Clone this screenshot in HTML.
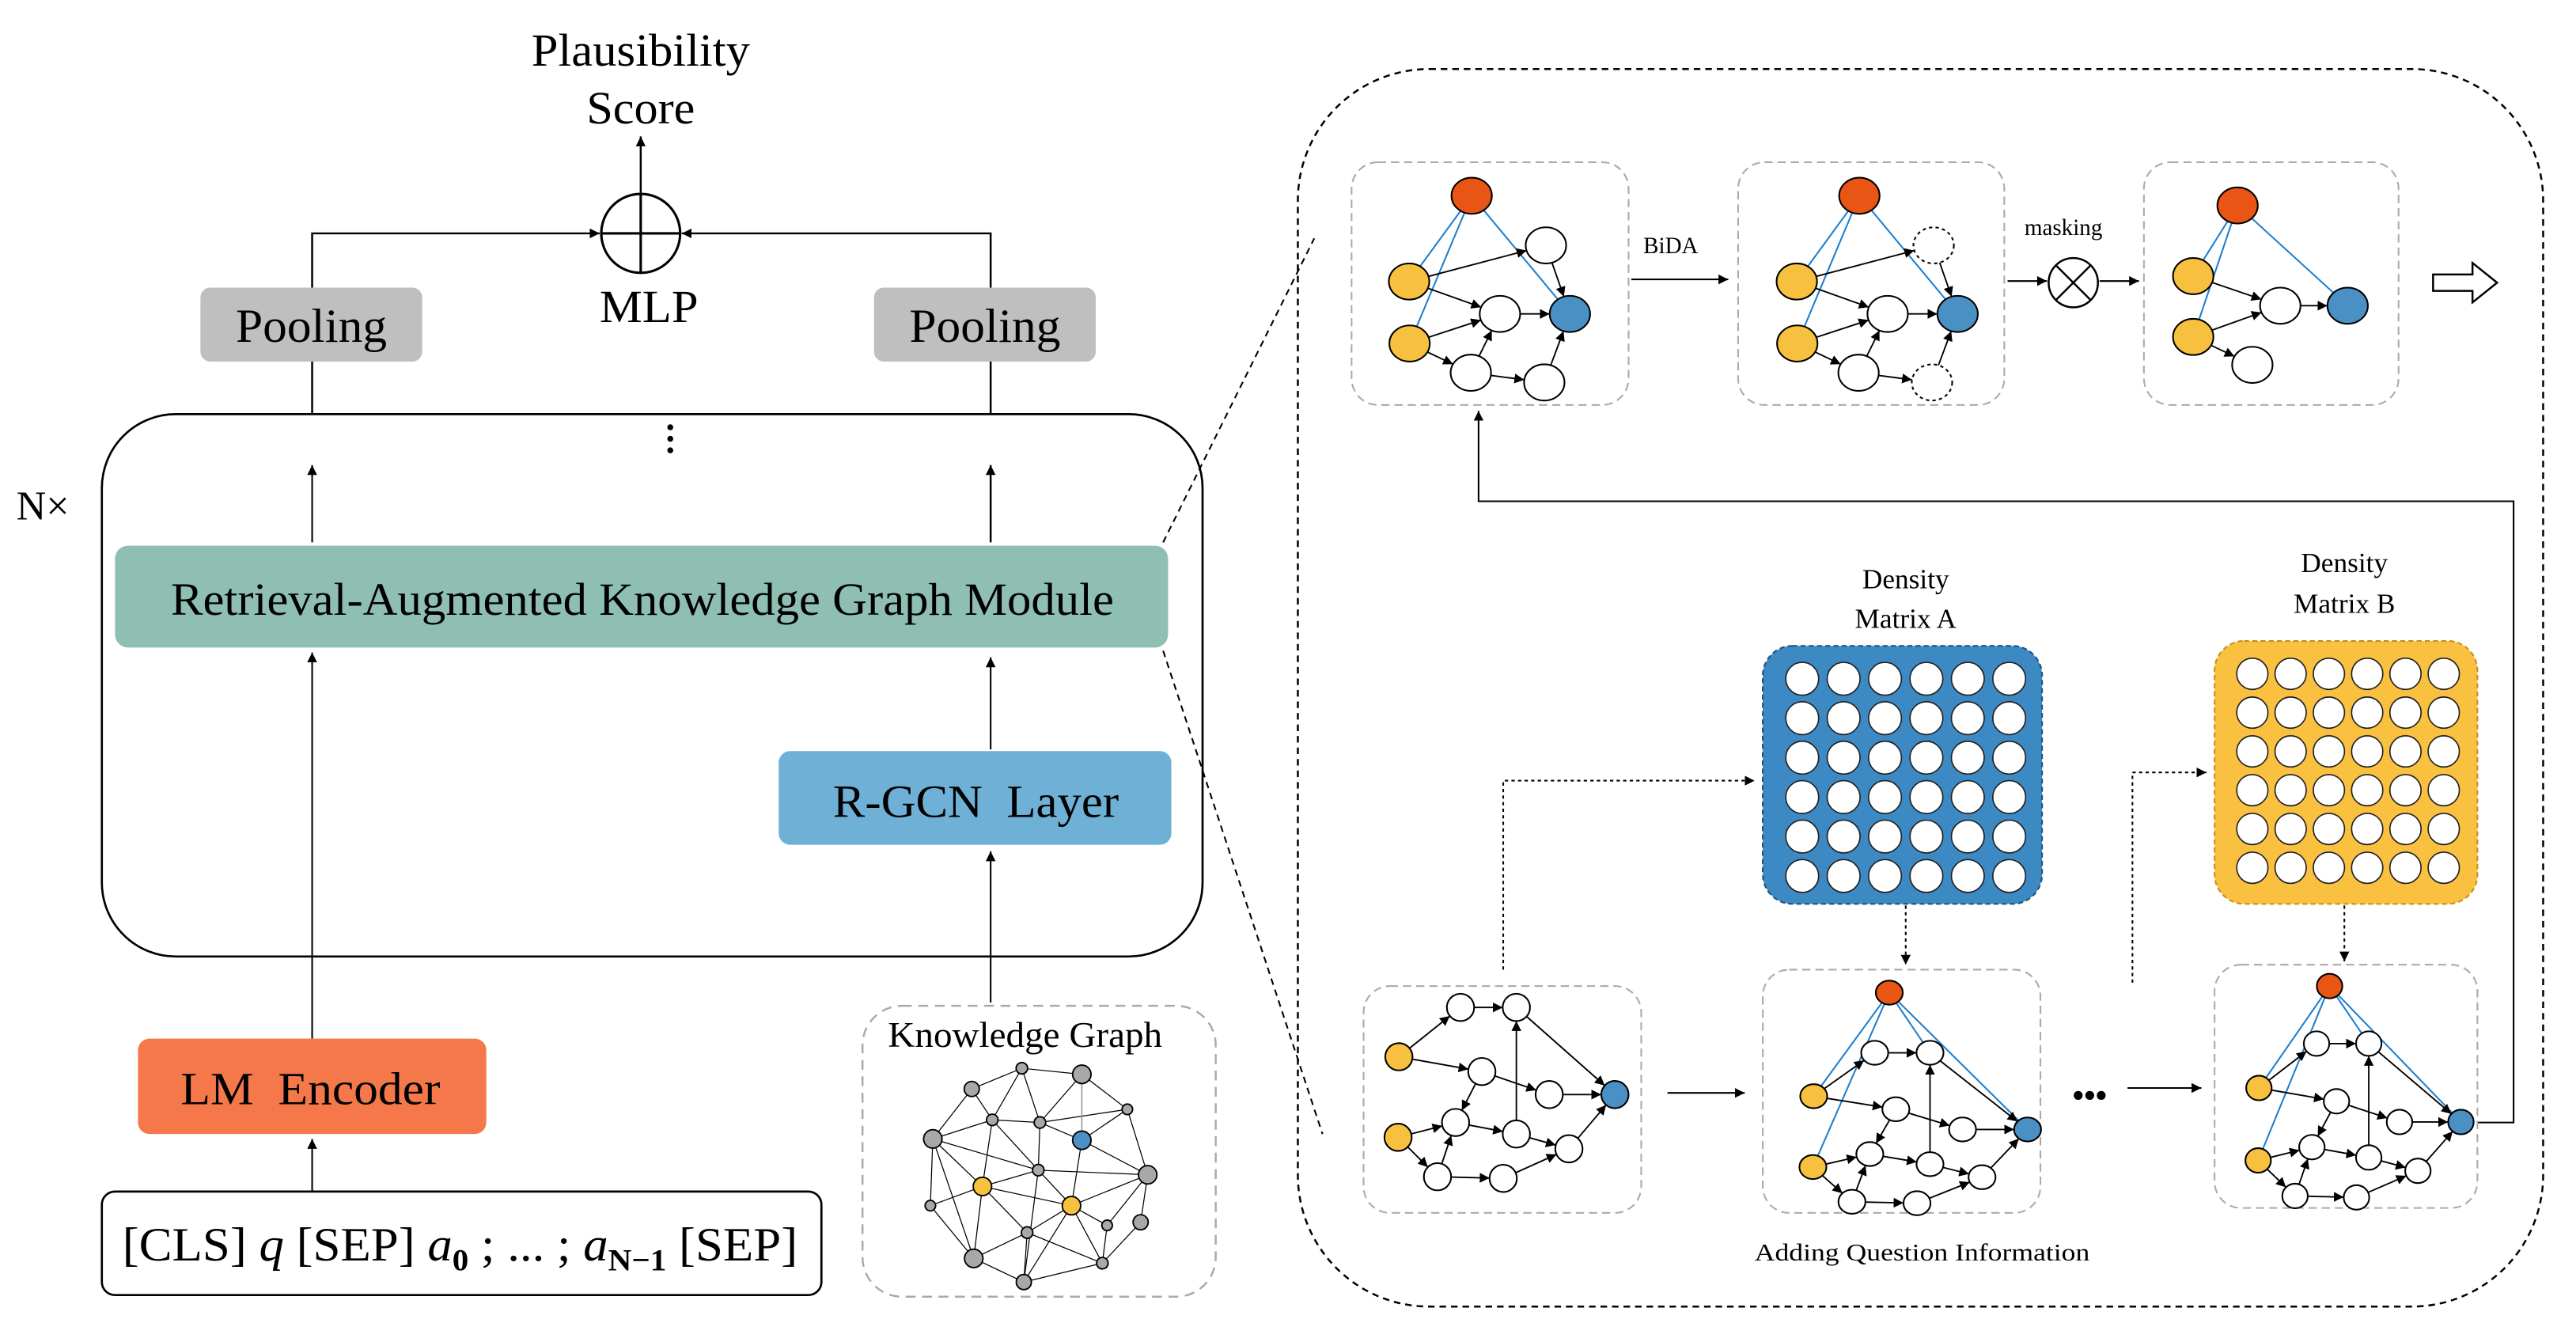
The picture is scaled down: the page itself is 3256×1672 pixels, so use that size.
<!DOCTYPE html>
<html><head><meta charset="utf-8"><style>
html,body{margin:0;padding:0;background:#fff;}
svg{display:block;}
text{font-family:"Liberation Serif",serif;fill:#000;}
</style></head><body>
<svg id="s" width="3256" height="1672" viewBox="0 0 1568 805" preserveAspectRatio="none" xmlns="http://www.w3.org/2000/svg">
<defs>
<marker id="ah" viewBox="0 0 10 10" refX="10" refY="5" markerWidth="6" markerHeight="6" markerUnits="userSpaceOnUse" orient="auto"><path d="M0,0L10,5L0,10z" fill="#000"/></marker>
</defs>
<rect width="1568" height="805" fill="#fff"/>

<text x="390" y="40" font-size="28" text-anchor="middle" textLength="133" lengthAdjust="spacingAndGlyphs">Plausibility</text>
<text x="390" y="75" font-size="28" text-anchor="middle" textLength="66" lengthAdjust="spacingAndGlyphs">Score</text>
<line x1="390" y1="118" x2="390" y2="83" stroke="#000" stroke-width="1.2" marker-end="url(#ah)"/>
<circle cx="390" cy="142" r="24" fill="#fff" stroke="#000" stroke-width="1.5"/>
<line x1="366" y1="142" x2="414" y2="142" stroke="#000" stroke-width="1.5"/>
<line x1="390" y1="118" x2="390" y2="166" stroke="#000" stroke-width="1.5"/>
<text x="395" y="196" font-size="28" text-anchor="middle" textLength="60" lengthAdjust="spacingAndGlyphs">MLP</text>
<polyline points="190,175 190,142 365,142" fill="none" stroke="#000" stroke-width="1.2" marker-end="url(#ah)"/>
<polyline points="603,175 603,142 415,142" fill="none" stroke="#000" stroke-width="1.2" marker-end="url(#ah)"/>
<rect x="122" y="175" width="135" height="45" rx="6" fill="#bfbfbf"/>
<text x="189.5" y="208" font-size="29" text-anchor="middle" textLength="92" lengthAdjust="spacingAndGlyphs">Pooling</text>
<rect x="532" y="175" width="135" height="45" rx="6" fill="#bfbfbf"/>
<text x="599.5" y="208" font-size="29" text-anchor="middle" textLength="92" lengthAdjust="spacingAndGlyphs">Pooling</text>
<line x1="190" y1="220" x2="190" y2="252" stroke="#000" stroke-width="1.2"/>
<line x1="603" y1="220" x2="603" y2="252" stroke="#000" stroke-width="1.2"/>
<rect x="62" y="252" width="670" height="330" rx="45" fill="none" stroke="#000" stroke-width="1.3"/>
<circle cx="408" cy="260" r="1.8" fill="#000"/><circle cx="408" cy="267" r="1.8" fill="#000"/><circle cx="408" cy="274" r="1.8" fill="#000"/>
<text x="10" y="316" font-size="25">N×</text>
<line x1="190" y1="330" x2="190" y2="283" stroke="#000" stroke-width="1" marker-end="url(#ah)"/>
<line x1="603" y1="330" x2="603" y2="283" stroke="#000" stroke-width="1.2" marker-end="url(#ah)"/>
<rect x="70" y="332" width="641" height="62" rx="8" fill="#8fbfb2"/>
<text x="391" y="374" font-size="28" text-anchor="middle" textLength="574" lengthAdjust="spacingAndGlyphs">Retrieval-Augmented Knowledge Graph Module</text>
<line x1="190" y1="632" x2="190" y2="397" stroke="#000" stroke-width="1" marker-end="url(#ah)"/>
<line x1="603" y1="456" x2="603" y2="400" stroke="#000" stroke-width="1" marker-end="url(#ah)"/>
<rect x="474" y="457" width="239" height="57" rx="7" fill="#6fb0d6"/>
<text x="594" y="497" font-size="28" text-anchor="middle" xml:space="preserve" textLength="174" lengthAdjust="spacingAndGlyphs">R-GCN  Layer</text>
<line x1="603" y1="610" x2="603" y2="518" stroke="#000" stroke-width="1" marker-end="url(#ah)"/>
<rect x="84" y="632" width="212" height="58" rx="7" fill="#f4784a"/>
<text x="189" y="672" font-size="28" text-anchor="middle" xml:space="preserve" textLength="158" lengthAdjust="spacingAndGlyphs">LM  Encoder</text>
<line x1="190" y1="725" x2="190" y2="693" stroke="#000" stroke-width="1" marker-end="url(#ah)"/>
<rect x="62" y="725" width="438" height="63" rx="8" fill="#fff" stroke="#000" stroke-width="1.3"/>
<text x="280" y="767" font-size="29" text-anchor="middle" textLength="411" lengthAdjust="spacingAndGlyphs">[CLS] <tspan font-style="italic">q</tspan> [SEP] <tspan font-style="italic">a</tspan><tspan font-size="19" dy="6" font-weight="bold">0</tspan><tspan dy="-6"> ; ... ; </tspan><tspan font-style="italic">a</tspan><tspan font-size="19" dy="6" font-weight="bold">N−1</tspan><tspan dy="-6"> [SEP]</tspan></text>

<rect x="525" y="612" width="215" height="177" rx="24" fill="none" stroke="#aaa" stroke-width="1.2" stroke-dasharray="6,4"/>
<text x="624" y="637" font-size="22" text-anchor="middle" textLength="167" lengthAdjust="spacingAndGlyphs">Knowledge Graph</text>
<g id="kg"></g>

<line x1="708" y1="330" x2="800" y2="145" stroke="#000" stroke-width="1" stroke-dasharray="4,3"/>
<line x1="708" y1="396" x2="805" y2="690" stroke="#000" stroke-width="1" stroke-dasharray="4,3"/>

<rect x="790" y="42" width="758" height="753" rx="80" fill="none" stroke="#000" stroke-width="1.2" stroke-dasharray="4,3"/>

<rect x="822.7" y="98.7" width="168.6" height="147.7" rx="16" fill="none" stroke="#aaa" stroke-width="1" stroke-dasharray="5,3"/>
<rect x="1058" y="98.7" width="162" height="147.7" rx="16" fill="none" stroke="#aaa" stroke-width="1" stroke-dasharray="5,3"/>
<rect x="1305" y="98.7" width="155" height="147.7" rx="16" fill="none" stroke="#aaa" stroke-width="1" stroke-dasharray="5,3"/>
<text x="1017" y="154" font-size="14" text-anchor="middle">BiDA</text>
<line x1="993" y1="170" x2="1052" y2="170" stroke="#000" stroke-width="1" marker-end="url(#ah)"/>
<text x="1256" y="143" font-size="14" text-anchor="middle">masking</text>
<line x1="1222" y1="171" x2="1246" y2="171" stroke="#000" stroke-width="1" marker-end="url(#ah)"/>
<circle cx="1262" cy="172" r="15" fill="#fff" stroke="#000" stroke-width="1.2"/>
<line x1="1251.4" y1="161.4" x2="1272.6" y2="182.6" stroke="#000" stroke-width="1.2"/>
<line x1="1272.6" y1="161.4" x2="1251.4" y2="182.6" stroke="#000" stroke-width="1.2"/>
<line x1="1278" y1="171" x2="1302" y2="171" stroke="#000" stroke-width="1" marker-end="url(#ah)"/>
<path d="M1481,167 L1505,167 L1505,160 L1520,172 L1505,184 L1505,177 L1481,177 Z" fill="#fff" stroke="#000" stroke-width="1.2"/>

<polyline points="1508,683 1530,683 1530,305 900,305 900,250" fill="none" stroke="#000" stroke-width="1" marker-end="url(#ah)"/>

<rect x="830" y="600" width="169" height="138" rx="16" fill="none" stroke="#aaa" stroke-width="1" stroke-dasharray="5,3"/>
<rect x="1073" y="590" width="169" height="148" rx="16" fill="none" stroke="#aaa" stroke-width="1" stroke-dasharray="5,3"/>
<rect x="1348" y="587" width="160" height="148" rx="16" fill="none" stroke="#aaa" stroke-width="1" stroke-dasharray="5,3"/>
<line x1="1015" y1="665" x2="1062" y2="665" stroke="#000" stroke-width="1" marker-end="url(#ah)"/>
<text x="1272" y="673" font-size="20" text-anchor="middle" font-weight="bold">•••</text>
<line x1="1295" y1="662" x2="1340" y2="662" stroke="#000" stroke-width="1" marker-end="url(#ah)"/>
<text x="1170" y="767" font-size="15" text-anchor="middle" textLength="204" lengthAdjust="spacingAndGlyphs">Adding Question Information</text>

<text x="1160" y="358" font-size="17" text-anchor="middle">Density</text>
<text x="1160" y="382" font-size="17" text-anchor="middle">Matrix A</text>
<text x="1427" y="348" font-size="17" text-anchor="middle">Density</text>
<text x="1427" y="373" font-size="17" text-anchor="middle">Matrix B</text>
<rect x="1073" y="393" width="170" height="157" rx="18" fill="#3d89c4" stroke="#1f4f7a" stroke-width="1" stroke-dasharray="3,2"/>
<rect x="1348" y="390" width="160" height="160" rx="18" fill="#f9c13f" stroke="#c9901a" stroke-width="1" stroke-dasharray="3,2"/>
<g id="mat"></g>
<polyline points="915,590 915,475 1068,475" fill="none" stroke="#000" stroke-width="1" stroke-dasharray="2,2" marker-end="url(#ah)"/>
<line x1="1160" y1="551" x2="1160" y2="587" stroke="#000" stroke-width="1" stroke-dasharray="2,2" marker-end="url(#ah)"/>
<polyline points="1298,598 1298,470 1343,470" fill="none" stroke="#000" stroke-width="1" stroke-dasharray="2,2" marker-end="url(#ah)"/>
<line x1="1427" y1="551" x2="1427" y2="585" stroke="#000" stroke-width="1" stroke-dasharray="2,2" marker-end="url(#ah)"/>

<g id="graphs"></g>
</svg>
<script>
(function(){
var NS="http://www.w3.org/2000/svg";
function el(p,t,a){var e=document.createElementNS(NS,t);for(var k in a)e.setAttribute(k,a[k]);p.appendChild(e);return e;}
var G=document.getElementById('graphs');
var COL={o:'#e85514',y:'#f8c03f',b:'#4a90c4',w:'#fff',g:'#aaa7a7'};
function graph(nodes,edges,blue,opts){
  var rx=opts.rx,ry=opts.ry;
  blue.forEach(function(e){var a=nodes[e[0]],b=nodes[e[1]];el(G,'line',{x1:a[0],y1:a[1],x2:b[0],y2:b[1],stroke:'#1f7fcf','stroke-width':1});});
  edges.forEach(function(e){var a=nodes[e[0]],b=nodes[e[1]];var dx=b[0]-a[0],dy=b[1]-a[1];var L=Math.sqrt(dx*dx+dy*dy);
    var ux=dx/L,uy=dy/L;var t=1/Math.sqrt((ux*ux)/(rx*rx)+(uy*uy)/(ry*ry));
    el(G,'line',{x1:a[0]+ux*t,y1:a[1]+uy*t,x2:b[0]-ux*t,y2:b[1]-uy*t,stroke:'#000','stroke-width':0.9,'marker-end':'url(#ah)'});});
  for(var k in nodes){var n=nodes[k];var a={cx:n[0],cy:n[1],rx:rx,ry:ry,fill:COL[n[2]],stroke:'#000','stroke-width':1};if(n[3])a['stroke-dasharray']='2,2';el(G,'ellipse',a);}
}
function topGraph(dx,dashed){
  var N={O:[895.8,119.1,'o'],Y1:[857.7,171.3,'y'],Y2:[858,209,'y'],a:[941,149.3,'w',dashed],b:[913,191,'w'],B:[955.6,191,'b'],c:[895.3,226.8,'w'],d:[940,232.7,'w',dashed]};
  var E=[['Y1','a'],['Y1','b'],['Y2','b'],['Y2','c'],['c','b'],['c','d'],['b','B'],['a','B'],['d','B']];
  for(var k in N){N[k][0]+=dx;}
  graph(N,E,[['O','Y1'],['O','Y2'],['O','B']],{rx:12.3,ry:11});
}
topGraph(0,false);topGraph(236,true);
var N3={O:[1362,125,'o'],Y1:[1335,168,'y'],Y2:[1335,205,'y'],b:[1388,186,'w'],B:[1429,186,'b'],c:[1371,222,'w']};
graph(N3,[['Y1','b'],['Y2','b'],['Y2','c'],['b','B']],[['O','Y1'],['O','Y2'],['O','B']],{rx:12.3,ry:11});
var T={Y1:[851.5,643,'y'],Y2:[851,692,'y'],W1:[889,613,'w'],W2:[923,613,'w'],W3:[902,652,'w'],W4:[943,666,'w'],B:[983,666,'b'],W5:[886,683,'w'],W6:[923,690,'w'],W7:[955,699,'w'],W8:[875,716,'w'],W9:[915,717,'w']};
var TE=[['Y1','W1'],['Y1','W3'],['W1','W2'],['W2','B'],['W3','W4'],['W3','W5'],['W4','B'],['Y2','W5'],['Y2','W8'],['W8','W5'],['W5','W6'],['W6','W2'],['W6','W7'],['W8','W9'],['W9','W7'],['W7','B']];
function bottom(X0,Y0,sx,sy,O){var N={};for(var k in T){N[k]=[X0+(T[k][0]-851.5)*sx,Y0+(T[k][1]-643)*sy,T[k][2]];}
  var bl=[];if(O){N.O=[O[0],O[1],'o'];bl=[['O','Y1'],['O','Y2'],['O','B'],['O','W2']];}
  graph(N,TE,bl,{rx:8.3*Math.min(1,sx),ry:8.3*Math.min(1,sy)});}
bottom(851.5,643,1,1,null);
bottom(1104,667,0.99,0.88,[1150,604]);
bottom(1375,662,0.935,0.9,[1418,600]);
var M=document.getElementById('mat');
for(var i=0;i<6;i++)for(var j=0;j<6;j++){
  el(M,'circle',{cx:1097+j*25.2,cy:413+i*24,r:10,fill:'#fff',stroke:'#222','stroke-width':0.8});
  el(M,'circle',{cx:1371+j*23.3,cy:410+i*23.6,r:9.5,fill:'#fff',stroke:'#222','stroke-width':0.8});
}
var K={A:[622,650,3.5,'g'],B:[658.5,653.7,5.6,'g'],C:[591.5,662.6,4.6,'g'],D:[686.2,675,3.2,'g'],E:[604,681.4,3.5,'g'],F:[633,683,3.5,'g'],G:[658.5,693.8,5.6,'b'],H:[567.8,693,5.6,'g'],I:[632,712,3.5,'g'],J:[698.6,714.8,5.6,'g'],K:[598,721.9,5.6,'y'],L:[566.3,733.6,3.2,'g'],M:[652.2,733.6,5.6,'y'],N:[673.9,745.6,3.2,'g'],O:[694.3,743.7,4.6,'g'],P:[625.2,750,3.5,'g'],Q:[592.7,765.7,5.6,'g'],R:[671,768.6,3.5,'g'],S:[623.2,780.1,4.6,'g']};
var KE="A-C A-E A-F A-B B-F B-D C-E C-H E-F E-H E-K E-I F-D F-G F-I D-G D-J G-J G-M H-I H-K H-L H-Q I-J I-K I-M I-S K-L K-M K-Q K-P M-J M-P M-R M-N M-S N-R J-N J-O O-R P-R P-Q P-S Q-S S-R L-Q".split(' ');
var KG=document.getElementById('kg');
KE.forEach(function(e){var p=e.split('-'),a=K[p[0]],b=K[p[1]];el(KG,'line',{x1:a[0],y1:a[1],x2:b[0],y2:b[1],stroke:'#000','stroke-width':0.6});});
el(KG,'line',{x1:K.B[0],y1:K.B[1],x2:K.G[0],y2:K.G[1],stroke:'#999','stroke-width':0.8});
for(var k in K){var n=K[k];el(KG,'circle',{cx:n[0],cy:n[1],r:n[2],fill:COL[n[3]],stroke:'#000','stroke-width':0.9});}
})();
</script>
</body></html>
